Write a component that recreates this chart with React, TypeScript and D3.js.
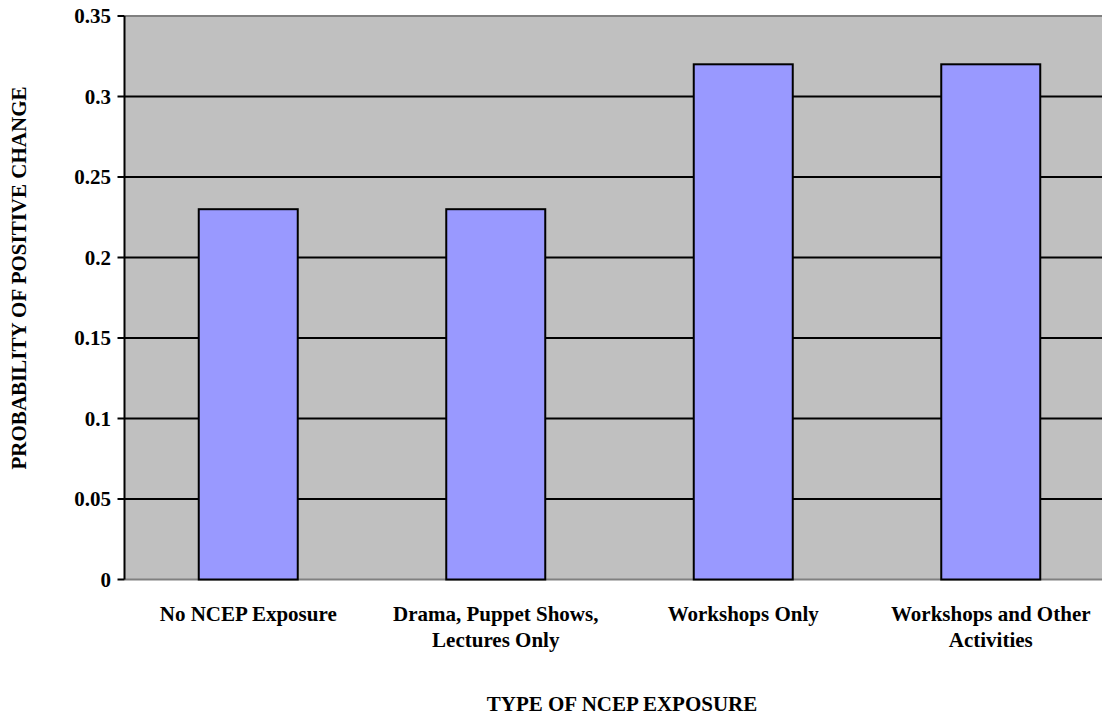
import React from "react";
import * as d3 from "d3";

const categories: string[][] = [
  ["No NCEP Exposure"],
  ["Drama, Puppet Shows,", "Lectures Only"],
  ["Workshops Only"],
  ["Workshops and Other", "Activities"],
];
const values: number[] = [0.23, 0.23, 0.32, 0.32];
const yTicks: number[] = [0, 0.05, 0.1, 0.15, 0.2, 0.25, 0.3, 0.35];
const yTickLabels: string[] = ["0", "0.05", "0.1", "0.15", "0.2", "0.25", "0.3", "0.35"];
const xTitle = "TYPE OF NCEP EXPOSURE";
const yTitle = "PROBABILITY OF POSITIVE CHANGE";

const W = 1102;
const H = 717;
const left = 124.5;
const right = 1114.5;
const top = 16;
const bottom = 579.5;
const font = "Liberation Serif";
const fs = 21;

export default function App() {
  const x = d3
    .scaleBand<number>()
    .domain(d3.range(categories.length))
    .range([left, right])
    .paddingInner(0.6)
    .paddingOuter(0.3);
  const y = d3.scaleLinear().domain([0, 0.35]).range([bottom, top]);

  return (
    <svg
      width={W}
      height={H}
      style={{ position: "absolute", left: 0, top: 0, background: "#fff", fontFamily: font }}
    >
      <rect x={left} y={top} width={right - left} height={bottom - top} fill="#C0C0C0" />
      {yTicks.map((t, i) => (
        <line
          key={"g" + i}
          x1={left}
          x2={right}
          y1={y(t)}
          y2={y(t)}
          stroke={t === 0 || t === 0.35 ? "#808080" : "#000"}
          strokeWidth={2}
        />
      ))}
      {values.map((v, i) => (
        <rect
          key={"b" + i}
          x={x(i)!}
          y={y(v)}
          width={x.bandwidth()}
          height={y(0) - y(v)}
          fill="#9999FF"
          stroke="#000"
          strokeWidth={2}
        />
      ))}
      <line x1={left} x2={left} y1={top} y2={bottom} stroke="#000" strokeWidth={2} />
      {yTicks.map((t, i) => (
        <g key={"t" + i}>
          <line x1={left - 7} x2={left} y1={y(t)} y2={y(t)} stroke="#000" strokeWidth={2} />
          <text
            x={111}
            y={y(t)}
            dy="0.35em"
            textAnchor="end"
            fontSize={fs}
            fontWeight="bold"
          >
            {yTickLabels[i]}
          </text>
        </g>
      ))}
      {categories.map((lines, i) => (
        <text
          key={"c" + i}
          x={x(i)! + x.bandwidth() / 2}
          y={621}
          textAnchor="middle"
          fontSize={fs}
          fontWeight="bold"
        >
          {lines.map((l, j) => (
            <tspan key={j} x={x(i)! + x.bandwidth() / 2} dy={j === 0 ? 0 : 26}>
              {l}
            </tspan>
          ))}
        </text>
      ))}
      <text x={622} y={711} textAnchor="middle" fontSize={fs} fontWeight="bold">
        {xTitle}
      </text>
      <text
        transform={`translate(26, 278) rotate(-90)`}
        textAnchor="middle"
        fontSize={fs}
        fontWeight="bold"
      >
        {yTitle}
      </text>
    </svg>
  );
}
